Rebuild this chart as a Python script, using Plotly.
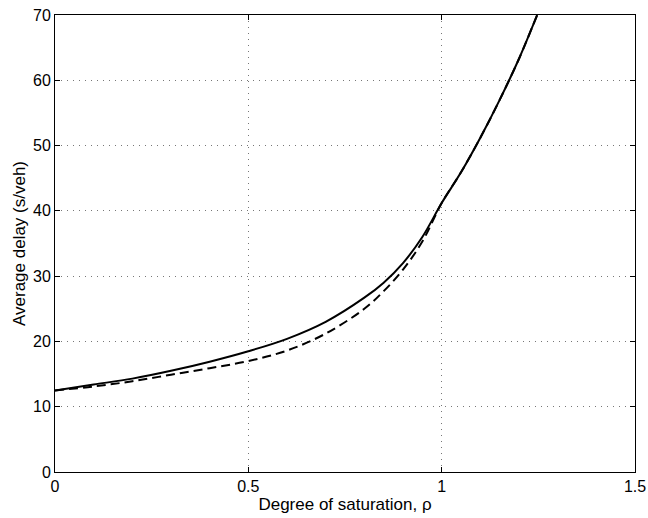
import plotly.graph_objects as go

# Degree of saturation vs average delay
solid_x = [0.00, 0.10, 0.20, 0.30, 0.40, 0.50, 0.60, 0.70, 0.80, 0.85, 0.90, 0.95, 1.00, 1.05, 1.10, 1.15, 1.20, 1.247]
solid_y = [12.5, 13.4, 14.3, 15.5, 16.9, 18.5, 20.4, 23.0, 26.7, 29.0, 32.0, 36.0, 41.2, 45.9, 51.2, 57.0, 63.3, 70.0]

dashed_x = [0.00, 0.10, 0.20, 0.30, 0.40, 0.50, 0.60, 0.70, 0.80, 0.85, 0.90, 0.95, 1.00, 1.05, 1.10, 1.15, 1.20, 1.247]
dashed_y = [12.5, 13.1, 13.9, 14.9, 15.9, 17.0, 18.6, 21.2, 25.0, 27.7, 31.0, 35.3, 41.2, 45.9, 51.2, 57.0, 63.3, 70.0]

x_ticks = [0, 0.5, 1, 1.5]
x_tick_labels = ["0", "0.5", "1", "1.5"]
y_ticks = [0, 10, 20, 30, 40, 50, 60, 70]

fig = go.Figure()
fig.add_trace(go.Scatter(x=dashed_x, y=dashed_y, mode="lines",
                         line=dict(color="black", width=2, dash="9px,5px", shape="spline", smoothing=1.0),
                         showlegend=False, hoverinfo="skip"))
fig.add_trace(go.Scatter(x=solid_x, y=solid_y, mode="lines",
                         line=dict(color="black", width=2, shape="spline", smoothing=1.0),
                         showlegend=False, hoverinfo="skip"))

font_family = "Liberation Sans, Arial, Helvetica, sans-serif"
axis_common = dict(
    showline=True, linecolor="black", linewidth=1, mirror="ticks",
    ticks="inside", ticklen=5, tickcolor="black", tickwidth=1,
    showgrid=True, gridcolor="#777777", gridwidth=1, griddash="1px,5px",
    zeroline=False, automargin=False, ticklabeloverflow="allow",
    tickfont=dict(family=font_family, size=16, color="black"),
)

fig.update_xaxes(range=[0, 1.5], tickvals=x_ticks, ticktext=x_tick_labels,
                 title=dict(text="Degree of saturation, ρ", font=dict(family=font_family, size=17, color="black"), standoff=0),
                 **axis_common)
fig.update_yaxes(range=[0, 70], tickvals=y_ticks,
                 title=dict(text="Average delay (s/veh)", font=dict(family=font_family, size=17, color="black"), standoff=3),
                 **axis_common)

fig.update_layout(
    width=648, height=518,
    margin=dict(l=55, r=13, t=15, b=46),
    plot_bgcolor="white", paper_bgcolor="white",
    font=dict(family=font_family, color="black"),
)

# remove the default page margin so the figure fills the 648x518 window exactly
fig.write_html("out.html",
               config={"displayModeBar": False},
               post_script="document.body.style.margin='0';document.body.style.overflow='hidden';")
